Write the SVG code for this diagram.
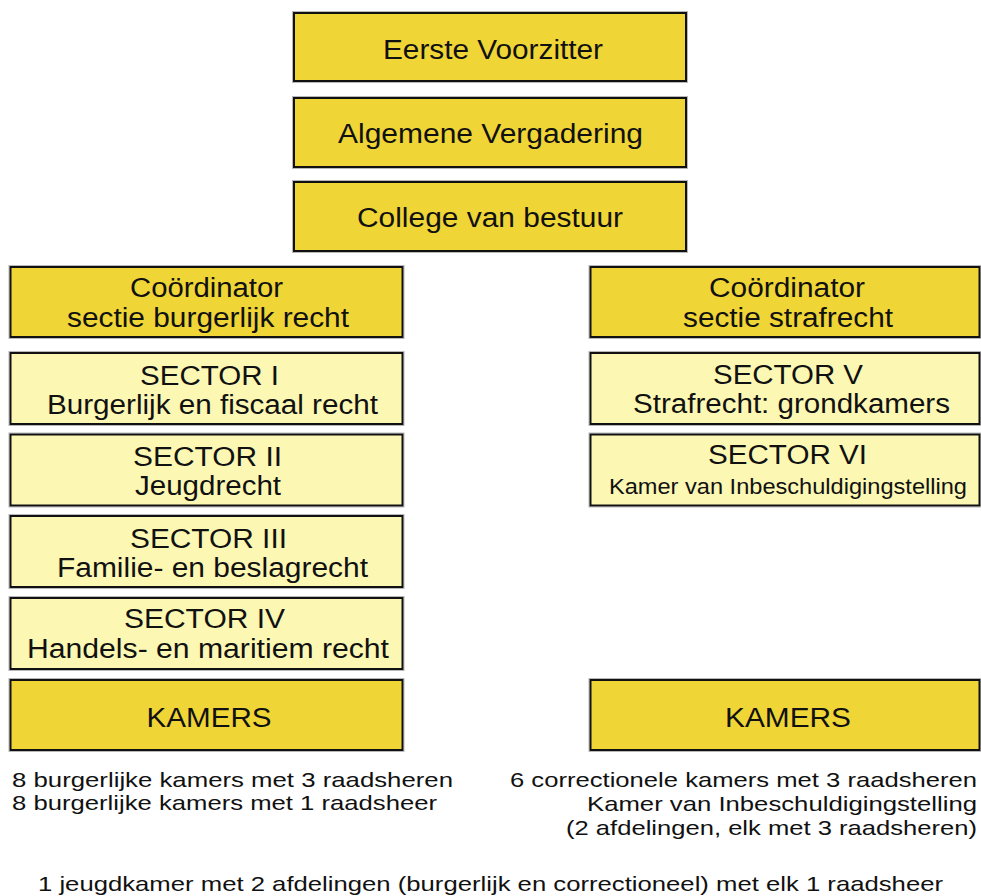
<svg xmlns="http://www.w3.org/2000/svg" width="981" height="896" viewBox="0 0 981 896">
<style>
.halo{fill:none;stroke:#b8b8b8;stroke-width:1}
.dark{fill:#F0D536;stroke:#111;stroke-width:2}
.light{fill:#FCF8B4;stroke:#111;stroke-width:2}
.t{font-family:"Liberation Sans",Arial,sans-serif;font-size:27px;fill:#111;text-anchor:middle}
.s{font-family:"Liberation Sans",Arial,sans-serif;font-size:21px;fill:#111}
</style>
<rect width="981" height="896" fill="#fff"/>
<g id="connectors"/>
<g id="eerste-voorzitter">
<rect class="halo" x="292.5" y="11.5" width="395" height="71"/>
<rect class="dark" x="294" y="13" width="392" height="68"/>
<text class="t" x="493" y="59" textLength="220" lengthAdjust="spacingAndGlyphs">Eerste Voorzitter</text>
</g>
<g id="algemene-vergadering">
<rect class="halo" x="292.5" y="96.5" width="395" height="72"/>
<rect class="dark" x="294" y="98" width="392" height="69"/>
<text class="t" x="490.5" y="143" textLength="305" lengthAdjust="spacingAndGlyphs">Algemene Vergadering</text>
</g>
<g id="college-van-bestuur">
<rect class="halo" x="292.5" y="180.5" width="395" height="72"/>
<rect class="dark" x="294" y="182" width="392" height="69"/>
<text class="t" x="490" y="227" textLength="266" lengthAdjust="spacingAndGlyphs">College van bestuur</text>
</g>
<g id="coordinator-burgerlijk">
<rect class="halo" x="9" y="265.5" width="395" height="73"/>
<rect class="dark" x="10.5" y="267" width="392" height="70"/>
<text class="t" x="206.5" y="297" textLength="153" lengthAdjust="spacingAndGlyphs">Coördinator</text>
<text class="t" x="208" y="327" textLength="282" lengthAdjust="spacingAndGlyphs">sectie burgerlijk recht</text>
</g>
<g id="sector-1">
<rect class="halo" x="9" y="351.5" width="395" height="74"/>
<rect class="light" x="10.5" y="353" width="392" height="71"/>
<text class="t" x="209.5" y="385" textLength="139" lengthAdjust="spacingAndGlyphs">SECTOR I</text>
<text class="t" x="212.5" y="414" textLength="331" lengthAdjust="spacingAndGlyphs">Burgerlijk en fiscaal recht</text>
</g>
<g id="sector-2">
<rect class="halo" x="9" y="433" width="395" height="74"/>
<rect class="light" x="10.5" y="434.5" width="392" height="71"/>
<text class="t" x="207.5" y="466" textLength="149" lengthAdjust="spacingAndGlyphs">SECTOR II</text>
<text class="t" x="208" y="495" textLength="146" lengthAdjust="spacingAndGlyphs">Jeugdrecht</text>
</g>
<g id="sector-3">
<rect class="halo" x="9" y="514.5" width="395" height="74"/>
<rect class="light" x="10.5" y="516" width="392" height="71"/>
<text class="t" x="208.5" y="548" textLength="157" lengthAdjust="spacingAndGlyphs">SECTOR III</text>
<text class="t" x="212.5" y="577" textLength="311" lengthAdjust="spacingAndGlyphs">Familie- en beslagrecht</text>
</g>
<g id="sector-4">
<rect class="halo" x="9" y="596.5" width="395" height="74"/>
<rect class="light" x="10.5" y="598" width="392" height="71"/>
<text class="t" x="204.5" y="628" textLength="161" lengthAdjust="spacingAndGlyphs">SECTOR IV</text>
<text class="t" x="208" y="658" textLength="362" lengthAdjust="spacingAndGlyphs">Handels- en maritiem recht</text>
</g>
<g id="kamers-links">
<rect class="halo" x="9" y="678.5" width="395" height="73"/>
<rect class="dark" x="10.5" y="680" width="392" height="70"/>
<text class="t" x="209" y="727" textLength="125" lengthAdjust="spacingAndGlyphs">KAMERS</text>
</g>
<g id="coordinator-strafrecht">
<rect class="halo" x="589" y="265.5" width="392" height="73"/>
<rect class="dark" x="590.5" y="267" width="389" height="70"/>
<text class="t" x="787" y="297" textLength="156" lengthAdjust="spacingAndGlyphs">Coördinator</text>
<text class="t" x="788" y="327" textLength="210" lengthAdjust="spacingAndGlyphs">sectie strafrecht</text>
</g>
<g id="sector-5">
<rect class="halo" x="589" y="351.5" width="392" height="74"/>
<rect class="light" x="590.5" y="353" width="389" height="71"/>
<text class="t" x="788" y="384" textLength="150" lengthAdjust="spacingAndGlyphs">SECTOR V</text>
<text class="t" x="791.5" y="413" textLength="317" lengthAdjust="spacingAndGlyphs">Strafrecht: grondkamers</text>
</g>
<g id="sector-6">
<rect class="halo" x="589" y="433" width="392" height="74"/>
<rect class="light" x="590.5" y="434.5" width="389" height="71"/>
<text class="t" x="787.5" y="464" textLength="159" lengthAdjust="spacingAndGlyphs">SECTOR VI</text>
<text class="t" x="788" y="494" style="font-size:22px" textLength="358" lengthAdjust="spacingAndGlyphs">Kamer van Inbeschuldigingstelling</text>
</g>
<g id="kamers-rechts">
<rect class="halo" x="589" y="678.5" width="392" height="73"/>
<rect class="dark" x="590.5" y="680" width="389" height="70"/>
<text class="t" x="788" y="727" textLength="126" lengthAdjust="spacingAndGlyphs">KAMERS</text>
</g>
<g id="notes">
<text class="s" x="12" y="787" textLength="441" lengthAdjust="spacingAndGlyphs">8 burgerlijke kamers met 3 raadsheren</text>
<text class="s" x="12" y="810" textLength="425" lengthAdjust="spacingAndGlyphs">8 burgerlijke kamers met 1 raadsheer</text>
<text class="s" x="510" y="787" textLength="467" lengthAdjust="spacingAndGlyphs">6 correctionele kamers met 3 raadsheren</text>
<text class="s" x="587" y="811" textLength="390" lengthAdjust="spacingAndGlyphs">Kamer van Inbeschuldigingstelling</text>
<text class="s" x="566" y="835" textLength="411" lengthAdjust="spacingAndGlyphs">(2 afdelingen, elk met 3 raadsheren)</text>
<text class="s" x="38" y="891" textLength="905" lengthAdjust="spacingAndGlyphs">1 jeugdkamer met 2 afdelingen (burgerlijk en correctioneel) met elk 1 raadsheer</text>
</g>
</svg>
